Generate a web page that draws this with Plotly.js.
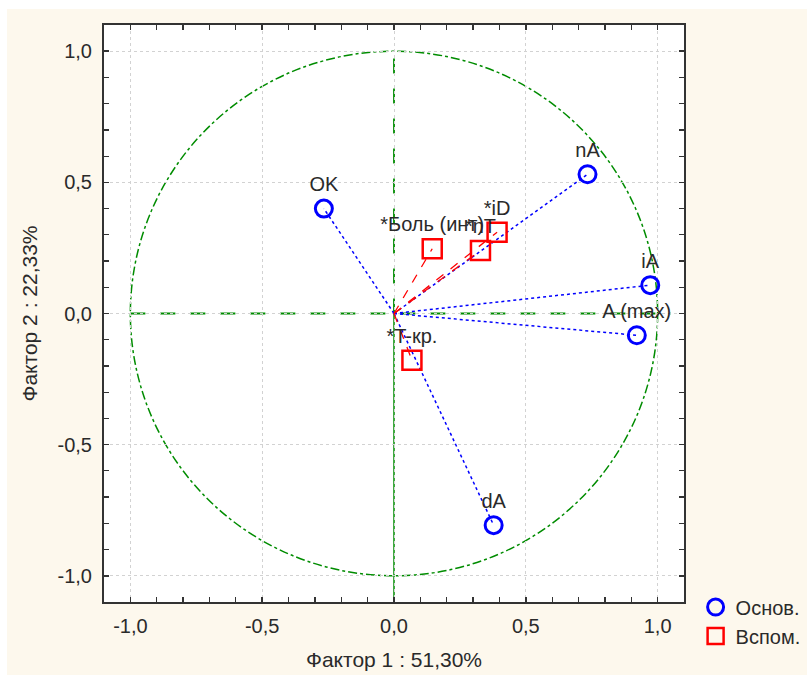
<!DOCTYPE html>
<html>
<head>
<meta charset="utf-8">
<script src="https://cdn.plot.ly/plotly-3.0.1.min.js"></script>
<style>
html,body{margin:0;padding:0;background:#ffffff;width:807px;height:675px;overflow:hidden;}
#chart{position:absolute;left:7px;top:9px;width:800px;height:666px;}
</style>
</head>
<body>
<div id="chart"></div>
<script>
// Active variables (Основ.)
const mainLabels = ["OK", "nA", "iA", "A (max)", "dA"];
const mainX = [-0.266, 0.734, 0.972, 0.921, 0.378];
const mainY = [0.400, 0.531, 0.108, -0.083, -0.807];

// Supplementary variables (Вспом.)
const suppLabels = ["*Боль (инт)", "*nT", "*iD", "*T-кр."];
const suppX = [0.145, 0.328, 0.391, 0.068];
const suppY = [0.247, 0.240, 0.310, -0.178];

const tickVals = [-1.0, -0.5, 0.0, 0.5, 1.0];
const tickText = ["-1,0", "-0,5", "0,0", "0,5", "1,0"];

const xTitle = "Фактор 1 : 51,30%";
const yTitle = "Фактор 2 : 22,33%";
const legendNames = ["Основ.", "Вспом."];

function rays(xs, ys) {
  const lx = [], ly = [];
  xs.forEach((x, i) => { lx.push(0, x, null); ly.push(0, ys[i], null); });
  return {x: lx, y: ly};
}
const mainRays = rays(mainX, mainY);
const suppRays = rays(suppX, suppY);

const fontFam = "Liberation Sans, Arial, sans-serif";
const textCol = "#2a2a2a";
const green = "rgb(0,140,0)";
const fs = 20;
const fsTitle = 21;

const traces = [
  {x: mainRays.x, y: mainRays.y, mode: "lines", line: {color: "#0000ff", width: 1.5, dash: "dot"}, showlegend: false, hoverinfo: "skip"},
  {x: suppRays.x, y: suppRays.y, mode: "lines", line: {color: "#ff0000", width: 1.3, dash: "dash"}, showlegend: false, hoverinfo: "skip"},
  {x: mainX, y: mainY, mode: "markers", name: legendNames[0],
   marker: {symbol: "circle-open", size: 17, color: "#0000ff", line: {width: 3, color: "#0000ff"}}},
  {x: suppX, y: suppY, mode: "markers", name: legendNames[1],
   marker: {symbol: "square-open", size: 19, color: "#ff0000", line: {width: 2.5, color: "#ff0000"}}},
  {x: mainX, y: mainY, mode: "markers+text", text: mainLabels, textposition: "top center",
   marker: {size: 18, opacity: 0},
   textfont: {family: fontFam, size: fs, color: textCol}, showlegend: false, hoverinfo: "skip"},
  {x: suppX, y: suppY, mode: "markers+text", text: suppLabels, textposition: "top center",
   marker: {size: 18, opacity: 0},
   textfont: {family: fontFam, size: fs, color: textCol}, showlegend: false, hoverinfo: "skip"}
];

const axisCommon = {
  range: [-1.1, 1.1],
  tickvals: tickVals,
  ticktext: tickText,
  ticks: "inside",
  ticklen: 5,
  tickwidth: 1.5,
  tickcolor: "#333",
  showline: true,
  linecolor: "#333",
  linewidth: 2,
  mirror: "ticks",
  showgrid: true,
  gridcolor: "#d2d2d2",
  griddash: "dot",
  gridwidth: 1,
  zeroline: false,
  automargin: false,
  tickfont: {family: fontFam, size: fs, color: textCol},
  minor: {dtick: 0.1, ticks: "inside", ticklen: 5, tickwidth: 1.2, tickcolor: "#333", showgrid: false},
  fixedrange: true
};

const layout = {
  width: 800, height: 666,
  margin: {l: 97, r: 123, t: 16, b: 73, autoexpand: false},
  paper_bgcolor: "#fdf8ed",
  plot_bgcolor: "#ffffff",
  xaxis: Object.assign({}, axisCommon, {
    title: {text: xTitle, font: {family: fontFam, size: fsTitle, color: textCol}, standoff: 16},
    ticklabelstandoff: 5
  }),
  yaxis: Object.assign({}, axisCommon, {
    title: {text: yTitle, font: {family: fontFam, size: fsTitle, color: textCol}, standoff: 14},
    ticklabelstandoff: 6
  }),
  shapes: [
    {type: "circle", xref: "x", yref: "y", x0: -1, x1: 1, y0: -1, y1: 1,
     line: {color: green, width: 1.5, dash: "dashdot"}, layer: "below"},
    {type: "line", xref: "x", yref: "y", x0: -1, x1: 1.05, y0: 0, y1: 0,
     line: {color: green, width: 1.8, dash: "longdash"}, layer: "below"},
    {type: "line", xref: "x", yref: "y", x0: 0, x1: 0, y0: 0, y1: 1,
     line: {color: green, width: 1.8, dash: "longdash"}, layer: "below"},
    {type: "line", xref: "x", yref: "y", x0: 0, x1: 0, y0: -1.1, y1: 0,
     line: {color: green, width: 1.5}, layer: "below"}
  ],
  legend: {
    x: 1.02, xanchor: "left", y: 0.025, yanchor: "top",
    bgcolor: "rgba(0,0,0,0)",
    font: {family: fontFam, size: fs, color: textCol},
    itemwidth: 30, tracegroupgap: 0
  },
  showlegend: true,
  hovermode: false
};

Plotly.newPlot("chart", traces, layout, {displayModeBar: false, staticPlot: true});
</script>
</body>
</html>
